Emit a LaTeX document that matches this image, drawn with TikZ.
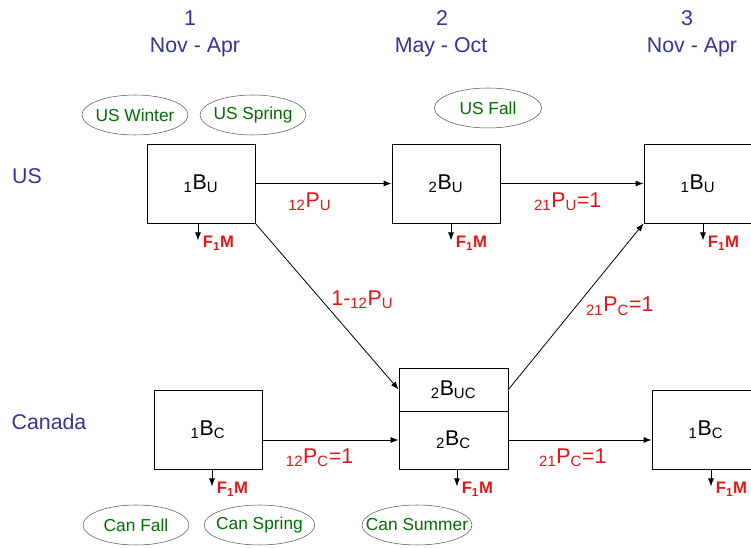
\documentclass[tikz,border=0pt]{standalone}
\usepackage{fontspec}
\setmainfont{Liberation Sans}
\usetikzlibrary{arrows.meta,shapes.geometric,positioning}
\definecolor{hdblue}{RGB}{51,51,153}
\definecolor{sgreen}{RGB}{0,110,0}
\definecolor{pred}{RGB}{230,20,20}
\newcommand{\bb}[3]{\textsubscript{#1}#2\textsubscript{#3}}
\newcommand{\sn}[1]{\makebox[0pt]{#1}}
\tikzset{
	stock/.style={draw,line width=0.6pt,minimum width=81pt,minimum height=59.25pt,inner sep=0pt,font=\fontsize{16}{19}\selectfont},
	season/.style={ellipse,draw=gray!70!black,text=sgreen,inner sep=0pt,minimum width=79.5pt,minimum height=30pt,font=\fontsize{13}{15}\selectfont},
	flow/.style={line width=0.6pt,-{Latex[length=6pt,width=4.5pt]}},
	prob/.style={text=pred,font=\fontsize{16}{19}\selectfont},
	catch/.style={text=pred,font=\bfseries\fontsize{12.5}{15}\selectfont},
	hdr/.style={text=hdblue,font=\fontsize{16}{19}\selectfont}
}
\begin{document}
\begin{tikzpicture}[x=0.75pt,y=-0.75pt]
	\useasboundingbox (0,0) rectangle (751,548);
	% time steps
	\node[hdr] (t1) at (190,18) {1};
	\node[hdr] (m1) at (195,47) {Nov - Apr};
	\node[hdr] (t2) at (442,18) {2};
	\node[hdr] (m2) at (441,47) {May - Oct};
	\node[hdr] (t3) at (687,18) {3};
	\node[hdr] (m3) at (692,47) {Nov - Apr};
	\node[hdr] (us) at (27,176) {US};
	\node[hdr] (ca) at (49,422) {Canada};
	% seasons
	\node[season] (usw) at (135,115) {\sn{US Winter}};
	\node[season] (uss) at (253,115) {\sn{US Spring}};
	\node[season,minimum width=80.25pt] (usf) at (488,108) {\sn{US Fall}};
	\node[season] (caf) at (136,525) {\sn{Can Fall}};
	\node[season,minimum width=83pt] (cas) at (259.5,525) {\sn{Can Spring}};
	\node[season,minimum width=82.5pt] (cau) at (417,525) {\sn{Can Summer}};
	% stocks
	\node[stock] (bu1) at (201,183.5) {\bb{1}{B}{U}};
	\node[stock] (bu2) at (446,183.5) {\bb{2}{B}{U}};
	\node[stock] (bu3) at (698,183.5) {\bb{1}{B}{U}};
	\node[stock] (bc1) at (208,429.5) {\bb{1}{B}{C}};
	\node[stock,minimum width=81.75pt,minimum height=32.25pt] (buc) at (453.5,389.5) {\bb{2}{B}{UC}};
	\node[stock,minimum width=81.75pt,minimum height=43.5pt] (bc2) at (453.5,440) {\bb{2}{B}{C}};
	\node[stock] (bc3) at (706,429.5) {\bb{1}{B}{C}};
	% movement
	\draw[flow] (bu1) -- (bu2) node[prob,pos=0.4,below=3pt]{\bb{12}{P}{U}};
	\draw[flow] (bu2) -- (bu3) node[prob,pos=0.47,below=3pt]{\bb{21}{P}{U}=1};
	\draw[flow] (bu1.south east) -- (buc.west) node[prob,pos=0.46,right=4pt]{1-\bb{12}{P}{U}};
	\draw[flow] (buc.east) -- (bu3.south west) node[prob,pos=0.5,right=4pt]{\bb{21}{P}{C}=1};
	\draw[flow] (bc1.east |- bc2.west) -- (bc2.west) node[prob,pos=0.42,below=3pt]{\bb{12}{P}{C}=1};
	\draw[flow] (bc2.east) -- (bc3.west |- bc2.east) node[prob,pos=0.45,below=3pt]{\bb{21}{P}{C}=1};
	% catch
	\draw[flow] ([xshift=-2.25pt]bu1.south) -- ++(0,17) node[catch,right,yshift=-2pt]{F\textsubscript{1}M};
	\draw[flow] ([xshift=3.75pt]bu2.south) -- ++(0,17) node[catch,right,yshift=-2pt]{F\textsubscript{1}M};
	\draw[flow] ([xshift=3.75pt]bu3.south) -- ++(0,17) node[catch,right,yshift=-2pt]{F\textsubscript{1}M};
	\draw[flow] ([xshift=3pt]bc1.south) -- ++(0,17) node[catch,right,yshift=-2pt]{F\textsubscript{1}M};
	\draw[flow] ([xshift=2.6pt]bc2.south) -- ++(0,17) node[catch,right,yshift=-2pt]{F\textsubscript{1}M};
	\draw[flow] ([xshift=3.75pt]bc3.south) -- ++(0,17) node[catch,right,yshift=-2pt]{F\textsubscript{1}M};
\end{tikzpicture}
\end{document}
